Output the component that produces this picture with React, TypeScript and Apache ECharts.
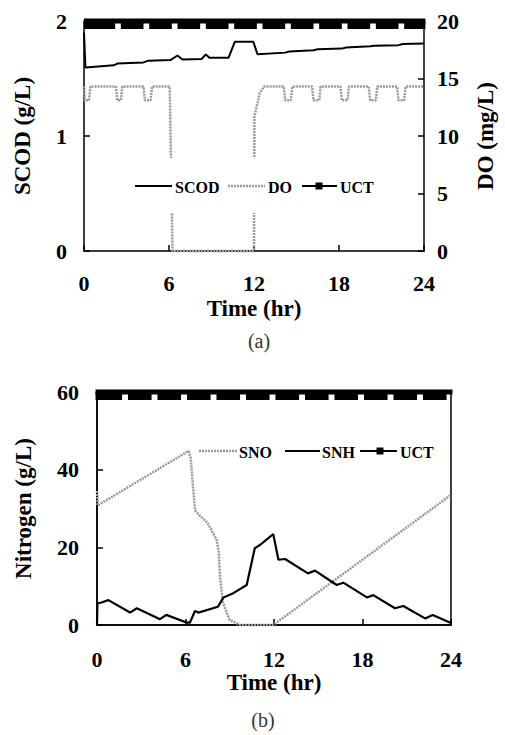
import React, { useEffect, useRef } from 'react';
import * as echarts from 'echarts';

// ---------- data ----------
const X_TICKS = [0, 6, 12, 18, 24];

// (a) SCOD, g/L (left axis)
const SCOD_T = [0, 0.1, 2.1, 2.35, 4.2, 4.55, 6.1, 6.6, 6.95, 8.3, 8.6, 8.85, 10.2, 10.65, 11.95, 12.25, 14.2, 14.5, 16.2, 16.5, 18.2, 18.5, 20.2, 20.5, 22.2, 22.5, 24];
const SCOD_V = [1.9, 1.595, 1.615, 1.63, 1.64, 1.655, 1.66, 1.7, 1.665, 1.67, 1.71, 1.68, 1.68, 1.82, 1.82, 1.71, 1.725, 1.735, 1.745, 1.755, 1.76, 1.77, 1.78, 1.785, 1.79, 1.8, 1.805];

// (a) DO, mg/L (right axis)
const DO_T = [0, 0.05, 0.35, 0.45, 2.25, 2.35, 2.6, 2.7, 4.2, 4.3, 4.7, 4.8, 6.05, 6.25, 12.0, 12.03, 12.4, 12.7, 14.1, 14.2, 14.6, 14.7, 16.1, 16.2, 16.6, 16.7, 18.1, 18.2, 18.6, 18.7, 20.1, 20.2, 20.6, 20.7, 22.1, 22.2, 22.6, 22.7, 24];
const DO_V = [14.3, 13.1, 13.1, 14.3, 14.3, 13.1, 13.1, 14.3, 14.3, 13.1, 13.1, 14.3, 14.3, 0, 0, 11.7, 13.7, 14.3, 14.3, 13.1, 13.1, 14.3, 14.3, 13.1, 13.1, 14.3, 14.3, 13.1, 13.1, 14.3, 14.3, 13.1, 13.1, 14.3, 14.3, 13.1, 13.1, 14.3, 14.3];

// (a) UCT on-periods (hr)
const UCT_A_START = [0, 2.6, 4.6, 6.6, 8.6, 10.6, 12.6, 14.6, 16.6, 18.6, 20.6, 22.6];
const UCT_A_END = [2.2, 4.2, 6.2, 8.2, 10.2, 12.2, 14.2, 16.2, 18.2, 20.2, 22.2, 24.1];
const UCT_A_LEVEL = 2;

// (b) SNO, g/L
const SNO_T = [0, 0.05, 6.2, 6.35, 6.5, 6.65, 7.0, 7.5, 8.1, 8.25, 8.35, 8.55, 9.0, 9.7, 11.95, 24];
const SNO_V = [34.5, 30.8, 44.8, 43, 36, 29.5, 28, 26.3, 22, 19, 12, 5.6, 1.3, 0, 0, 33.5];

// (b) SNH, g/L
const SNH_T = [0, 0.03, 0.3, 0.77, 2.24, 2.7, 4.27, 4.7, 6.1, 6.3, 6.64, 6.87, 8.2, 8.57, 9.24, 10.15, 10.7, 11.05, 11.95, 12.3, 12.75, 14.3, 14.78, 16.25, 16.7, 18.3, 18.73, 20.2, 20.77, 22.24, 22.76, 24];
const SNH_V = [0, 5.6, 5.8, 6.4, 3.2, 4.3, 1.5, 2.6, 0.6, 0.6, 3.6, 3.2, 4.7, 7.1, 8.2, 10.3, 19.8, 20.6, 23.4, 16.8, 17.0, 13.3, 14.0, 10.3, 10.9, 7.1, 7.7, 4.3, 4.9, 1.7, 2.6, 0.5];

// (b) UCT on-periods (hr)
const UCT_B_START = [-0.1, 2.1, 4.1, 6.1, 8.1, 10.1, 12.1, 14.1, 16.1, 18.1, 20.1, 22.1];
const UCT_B_END = [1.7, 3.7, 5.7, 7.7, 9.7, 11.7, 13.7, 15.7, 17.7, 19.7, 21.7, 23.7];
const UCT_B_LEVEL = 60;

const zip = (t: number[], v: number[]) => t.map((x, i) => [x, v[i]]);
const blocks = (s: number[], e: number[], lvl: number) => s.map((x, i) => [x, e[i], lvl]);

const FONT = 'Liberation Serif';
const GRAY = '#9a9a9a';

export default function App() {
  const ref = useRef<HTMLDivElement>(null);
  useEffect(() => {
    if (!ref.current) return;
    const chart = echarts.init(ref.current, undefined, { renderer: 'svg' });

    const tickLabel = { fontFamily: FONT, fontWeight: 'bold', fontSize: 22, color: '#000' };
    const nameStyle = { fontFamily: FONT, fontWeight: 'bold', fontSize: 23, color: '#000' };
    const axisLine = { show: true, lineStyle: { color: '#000', width: 1.5 } };
    const axisTick = { show: true, inside: true, length: 6, lineStyle: { color: '#000', width: 1.5 } };

    const xAxisBase = (gridIndex: number, margin: number, gap: number) => ({
      type: 'value', gridIndex, min: 0, max: 24, interval: 6,
      name: 'Time (hr)', nameLocation: 'middle', nameGap: gap, nameTextStyle: nameStyle,
      axisLine, axisTick, splitLine: { show: false },
      axisLabel: { ...tickLabel, margin, formatter: (v: number) => (X_TICKS.includes(v) ? String(v) : '') },
    });

    const blockRender = (params: any, api: any) => {
      const s = api.value(0), e = api.value(1), lvl = api.value(2);
      const p1 = api.coord([s, lvl]);
      const p2 = api.coord([e, lvl]);
      return { type: 'rect', shape: { x: p1[0], y: p1[1], width: p2[0] - p1[0], height: 8 }, style: { fill: '#000' } };
    };

    const legendText = (x: number, y: number, text: string) => ({
      type: 'text', x, y, z: 101,
      style: { text, fill: '#000', font: `bold 16px "${FONT}"`, verticalAlign: 'middle', textVerticalAlign: 'middle' },
    });
    const legendLine = (x1: number, x2: number, y: number, dotted: boolean) => ({
      type: 'line', z: 101,
      shape: { x1, y1: y, x2, y2: y },
      style: dotted ? { stroke: GRAY, lineWidth: 2.5, lineDash: [2, 1] } : { stroke: '#000', lineWidth: 2 },
    });
    const legendSquare = (cx: number, y: number) => ({
      type: 'rect', z: 101, shape: { x: cx - 3.5, y: y - 3.5, width: 7, height: 7 }, style: { fill: '#000' },
    });

    chart.setOption({
      animation: false,
      backgroundColor: '#fff',
      grid: [
        { left: 84, top: 21, width: 348, height: 230, show: false },
        { left: 97, top: 392, width: 354, height: 233, show: true, borderColor: '#000', borderWidth: 1.5, backgroundColor: 'transparent' },
      ],
      xAxis: [xAxisBase(0, 21, 46), xAxisBase(1, 23, 45)],
      yAxis: [
        {
          type: 'value', gridIndex: 0, min: 0, max: 2, interval: 1, position: 'left',
          name: 'SCOD (g/L)', nameLocation: 'middle', nameGap: 50, nameRotate: 90, nameTextStyle: nameStyle,
          axisLine, axisTick, splitLine: { show: false }, axisLabel: { ...tickLabel, margin: 17 },
        },
        {
          type: 'value', gridIndex: 0, min: 0, max: 20, interval: 5, position: 'right',
          name: 'DO (mg/L)', nameLocation: 'middle', nameGap: 50, nameRotate: 90, nameTextStyle: nameStyle,
          axisLine, axisTick, splitLine: { show: false }, axisLabel: { ...tickLabel, margin: 13 },
        },
        {
          type: 'value', gridIndex: 1, min: 0, max: 60, interval: 20, position: 'left',
          name: 'Nitrogen (g/L)', nameLocation: 'middle', nameGap: 62, nameRotate: 90, nameTextStyle: nameStyle,
          axisLine, axisTick, splitLine: { show: false }, axisLabel: { ...tickLabel, margin: 18 },
        },
      ],
      series: [
        {
          name: 'SCOD', type: 'line', xAxisIndex: 0, yAxisIndex: 0, data: zip(SCOD_T, SCOD_V),
          showSymbol: false, symbol: 'none', lineStyle: { color: '#000', width: 2 }, z: 3,
        },
        {
          name: 'DO', type: 'line', xAxisIndex: 0, yAxisIndex: 1, data: zip(DO_T, DO_V),
          showSymbol: false, symbol: 'none', lineStyle: { color: GRAY, width: 2.5, type: [2, 1] }, z: 2, clip: false,
        },
        {
          name: 'UCT', type: 'line', xAxisIndex: 0, yAxisIndex: 0, data: [[0, UCT_A_LEVEL], [24.1, UCT_A_LEVEL]],
          showSymbol: false, symbol: 'none', lineStyle: { color: '#000', width: 5 }, z: 5, clip: false,
        },
        {
          name: 'UCT blocks a', type: 'custom', xAxisIndex: 0, yAxisIndex: 0,
          data: blocks(UCT_A_START, UCT_A_END, UCT_A_LEVEL), encode: { x: [0, 1], y: 2 },
          renderItem: blockRender, clip: false, z: 5,
        },
        {
          name: 'SNO', type: 'line', xAxisIndex: 1, yAxisIndex: 2, data: zip(SNO_T, SNO_V),
          showSymbol: false, symbol: 'none', lineStyle: { color: GRAY, width: 2.5, type: [2, 1] }, z: 2, clip: false,
        },
        {
          name: 'SNH', type: 'line', xAxisIndex: 1, yAxisIndex: 2, data: zip(SNH_T, SNH_V),
          showSymbol: false, symbol: 'none', lineStyle: { color: '#000', width: 2.2 }, z: 3,
        },
        {
          name: 'UCT b', type: 'line', xAxisIndex: 1, yAxisIndex: 2, data: [[-0.1, UCT_B_LEVEL], [24.1, UCT_B_LEVEL]],
          showSymbol: false, symbol: 'none', lineStyle: { color: '#000', width: 5 }, z: 5, clip: false,
        },
        {
          name: 'UCT blocks b', type: 'custom', xAxisIndex: 1, yAxisIndex: 2,
          data: blocks(UCT_B_START, UCT_B_END, UCT_B_LEVEL), encode: { x: [0, 1], y: 2 },
          renderItem: blockRender, clip: false, z: 5,
        },
      ],
      graphic: [
        { type: 'rect', z: 100, shape: { x: 128, y: 158, width: 252, height: 55 }, style: { fill: '#fff' } },
        legendLine(135, 172, 186, false),
        legendText(175, 187, 'SCOD'),
        legendLine(228, 265, 186, true),
        legendText(268, 187, 'DO'),
        legendLine(302, 337, 186, false),
        legendSquare(319, 186),
        legendText(340, 187, 'UCT'),

        legendLine(199, 237, 451, true),
        legendText(239, 452, 'SNO'),
        legendLine(285, 320, 451, false),
        legendText(322, 452, 'SNH'),
        legendLine(360, 397, 451, false),
        legendSquare(380, 451),
        legendText(400, 452, 'UCT'),

        {
          type: 'text', x: 259, y: 341, z: 101,
          style: { text: '(a)', fill: '#333', font: `20px "${FONT}"`, align: 'center', textAlign: 'center', verticalAlign: 'middle', textVerticalAlign: 'middle' },
        },
        {
          type: 'text', x: 263, y: 720, z: 101,
          style: { text: '(b)', fill: '#333', font: `20px "${FONT}"`, align: 'center', textAlign: 'center', verticalAlign: 'middle', textVerticalAlign: 'middle' },
        },
      ],
    });
    return () => chart.dispose();
  }, []);
  return <div ref={ref} style={{ position: 'absolute', left: 0, top: 0, width: 505, height: 735 }} />;
}
